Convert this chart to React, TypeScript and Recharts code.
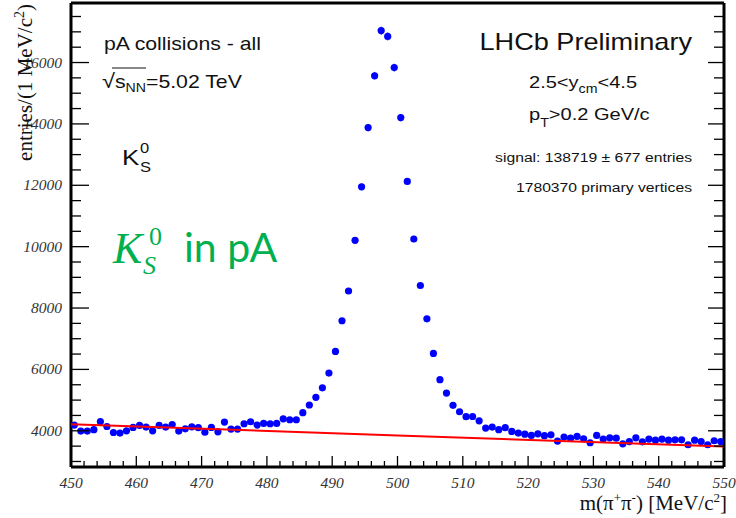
import { ComposedChart, Scatter, XAxis, YAxis, ErrorBar } from "recharts";

// entries per 1 MeV/c2 bin, bins start at 450 MeV/c2
const firstBinLow = 450;
const countsLow = [4185, 3990, 3990, 4035, 4300, 4140, 3945, 3925, 4000, 4110, 4175, 4120, 4000, 4175, 4120, 4205, 3990, 4065, 4130, 4100, 3955, 4110, 3965, 4285, 4055];
const countsRise = [4055, 4230, 4295, 4185, 4240, 4230, 4240, 4390, 4360, 4360, 4590, 4840, 5090, 5400, 5880, 6585, 7585, 8555, 10205, 11950, 13880, 15570, 17040, 16850, 15835];
const countsFall = [14205, 12125, 10250, 8735, 7650, 6520, 5665, 5230, 4830, 4620, 4460, 4465, 4325, 4090, 4120, 4035, 4100, 3980, 3925, 3890, 3850, 3900, 3840, 3870, 3665];
const countsHigh = [3795, 3760, 3815, 3740, 3610, 3850, 3730, 3770, 3760, 3575, 3650, 3770, 3640, 3730, 3695, 3730, 3695, 3705, 3705, 3545, 3695, 3650, 3545, 3675, 3650];

// background fit (red line)
const bgMass = [450, 500, 550];
const bgCounts = [4210, 3850, 3490];

const xLabels = [450, 460, 470, 480, 490, 500, 510, 520, 530, 540, 550];
const yLabels = [4000, 6000, 8000, 10000, 12000, 14000, 16000];
const xTicks = Array.from({ length: 51 }, (_, i) => 450 + 2 * i);
const yTicks = Array.from({ length: 30 }, (_, i) => 3000 + 500 * i);

const points = [...countsLow, ...countsRise, ...countsFall, ...countsHigh].map((n, i) => ({
  m: firstBinLow + i + 0.5,
  n,
  err: Math.sqrt(n),
}));
const bgLine = bgMass.map((m, i) => ({ m, n: bgCounts[i] }));

const sans = "'Liberation Sans', Arial, sans-serif";
const serif = "'Liberation Serif', 'Times New Roman', serif";
const green = "#00b050";
const SX = 1.18;

const tickFont = { fontFamily: serif, fontStyle: "italic", fontSize: 15.5, fill: "#333" };

function BottomTick({ x, y, payload }: any) {
  const major = xLabels.includes(payload.value);
  return (
    <g>
      <line x1={x} x2={x} y1={y} y2={y - (major ? 11 : 6)} stroke="#000" strokeWidth={1.3} />
      {major && (
        <text x={x} y={y + 21} textAnchor="middle" {...tickFont}>
          {payload.value}
        </text>
      )}
    </g>
  );
}

function TopTick({ x, y, payload }: any) {
  const major = xLabels.includes(payload.value);
  return <line x1={x} x2={x} y1={y} y2={y + (major ? 13 : 7)} stroke="#000" strokeWidth={1.3} />;
}

function LeftTick({ x, y, payload }: any) {
  const major = yLabels.includes(payload.value);
  return (
    <g>
      <line x1={x} x2={x + (major ? 18 : 10)} y1={y} y2={y} stroke="#000" strokeWidth={1.3} />
      {major && (
        <text x={x - 9} y={y + 5} textAnchor="end" {...tickFont}>
          {payload.value}
        </text>
      )}
    </g>
  );
}

function RightTick({ x, y, payload }: any) {
  const major = yLabels.includes(payload.value);
  return <line x1={x} x2={x - (major ? 16 : 10)} y1={y} y2={y} stroke="#000" strokeWidth={1.3} />;
}

const Dot = (p: any) => <circle cx={p.cx} cy={p.cy} r={3.6} fill="#0000ff" />;
const NoDot = () => <g />;

function Annotations() {
  return (
    <svg width={736} height={518} style={{ position: "absolute", left: 0, top: 0, pointerEvents: "none" }}>
      <g fontFamily={sans} fill="#111">
        <g transform={`translate(104,50) scale(${SX},1)`}>
          <text fontSize={18}>pA collisions - all</text>
        </g>
        <g transform={`translate(102,88) scale(${SX},1)`}>
          <text fontSize={18}>
            <tspan fontSize={20}>√</tspan>
            <tspan>s</tspan>
            <tspan fontSize={12} dy={4}>NN</tspan>
            <tspan dy={-4}>=5.02 TeV</tspan>
          </text>
        </g>
        <line x1={112} x2={146} y1={68} y2={68} stroke="#111" strokeWidth={1.2} />
        <g transform={`translate(122,165) scale(${SX},1)`}>
          <text fontSize={22}>K</text>
        </g>
        <g transform={`translate(140,153) scale(${SX},1)`}>
          <text fontSize={14}>0</text>
        </g>
        <g transform={`translate(140,172) scale(${SX},1)`}>
          <text fontSize={14}>S</text>
        </g>
        <g transform={`translate(692,50) scale(${SX},1)`}>
          <text fontSize={23} textAnchor="end">LHCb Preliminary</text>
        </g>
        <g transform={`translate(529,88) scale(${SX},1)`}>
          <text fontSize={17}>
            2.5&lt;y<tspan fontSize={12} dy={5}>cm</tspan>
            <tspan dy={-5}>&lt;4.5</tspan>
          </text>
        </g>
        <g transform={`translate(529,120) scale(${SX},1)`}>
          <text fontSize={17}>
            p<tspan fontSize={12} dy={7}>T</tspan>
            <tspan dy={-7}>&gt;0.2 GeV/c</tspan>
          </text>
        </g>
        <g transform={`translate(692,162) scale(${SX},1)`}>
          <text fontSize={13.3} textAnchor="end">signal: 138719 ± 677 entries</text>
        </g>
        <g transform={`translate(692,192) scale(${SX},1)`}>
          <text fontSize={13.3} textAnchor="end">1780370 primary vertices</text>
        </g>
      </g>

      <g fill={green}>
        <text x={113} y={263} fontFamily={serif} fontStyle="italic" fontSize={44}>K</text>
        <text x={149} y={245} fontFamily={serif} fontSize={26}>0</text>
        <text x={143} y={274} fontFamily={serif} fontStyle="italic" fontSize={26}>S</text>
        <text x={184} y={262} fontFamily="Lato, 'Open Sans', sans-serif" fontSize={41}>in pA</text>
      </g>

      <g fontFamily={serif} fill="#111">
        <text transform="translate(32,4) rotate(-90)" textAnchor="end" fontSize={21}>
          entries/(1 MeV/c<tspan fontSize={14} dy={-8}>2</tspan>
          <tspan dy={8}>)</tspan>
        </text>
        <text x={727} y={510} textAnchor="end" fontSize={21}>
          m(π<tspan fontSize={13} dy={-8}>+</tspan>
          <tspan dy={8}>π</tspan>
          <tspan fontSize={13} dy={-8}>-</tspan>
          <tspan dy={8}>) [MeV/c</tspan>
          <tspan fontSize={13} dy={-8}>2</tspan>
          <tspan dy={8}>]</tspan>
        </text>
      </g>
    </svg>
  );
}

export default function App() {
  const axisLine = { stroke: "#000", strokeWidth: 3 };
  return (
    <div style={{ position: "absolute", left: 0, top: 0, width: 736, height: 518, background: "#fff" }}>
      <ComposedChart width={736} height={518} margin={{ top: 0, right: 0, bottom: 0, left: 0 }}>
        <XAxis
          dataKey="m"
          type="number"
          domain={[450, 550]}
          allowDataOverflow
          ticks={xTicks}
          interval={0}
          tickSize={0}
          tickMargin={0}
          tickLine={false}
          axisLine={axisLine}
          height={51}
          tick={BottomTick}
        />
        <XAxis
          xAxisId="top"
          orientation="top"
          type="number"
          domain={[450, 550]}
          allowDataOverflow
          ticks={xTicks}
          interval={0}
          tickSize={0}
          tickMargin={0}
          tickLine={false}
          axisLine={axisLine}
          height={3}
          tick={TopTick}
        />
        <YAxis
          dataKey="n"
          type="number"
          domain={[2820, 17940]}
          allowDataOverflow
          ticks={yTicks}
          interval={0}
          tickSize={0}
          tickMargin={0}
          tickLine={false}
          axisLine={axisLine}
          width={71}
          tick={LeftTick}
        />
        <YAxis
          yAxisId="right"
          orientation="right"
          type="number"
          domain={[2820, 17940]}
          allowDataOverflow
          ticks={yTicks}
          interval={0}
          tickSize={0}
          tickMargin={0}
          tickLine={false}
          axisLine={axisLine}
          width={12}
          tick={RightTick}
        />
        <Scatter data={points} shape={Dot} isAnimationActive={false}>
          <ErrorBar dataKey="err" direction="y" width={0} stroke="#0000ff" strokeWidth={1} isAnimationActive={false} />
        </Scatter>
        <Scatter data={bgLine} shape={NoDot} line={{ stroke: "#ff0000", strokeWidth: 2 }} isAnimationActive={false} />
      </ComposedChart>
      <Annotations />
    </div>
  );
}
